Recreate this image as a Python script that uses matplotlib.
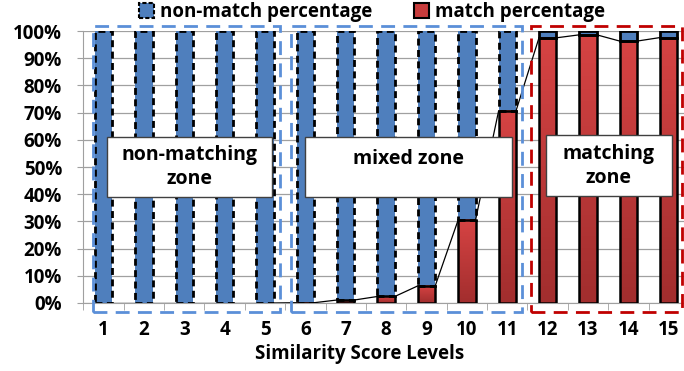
"""Stacked percentage bars of match / non-match per similarity score level."""

import matplotlib.pyplot as plt
import numpy as np
from matplotlib.colors import LinearSegmentedColormap
from matplotlib.patches import Rectangle

plt.rcParams["font.family"] = ["Open Sans", "DejaVu Sans"]
plt.rcParams["font.weight"] = "bold"

levels = [str(i) for i in range(1, 16)]
match_pct = [0, 0, 0, 0, 0, 0.1, 1.1, 2.4, 6.3, 30.6, 70.6, 97.5, 98.6, 96.3, 97.6]
nonmatch_pct = [100, 100, 100, 100, 100, 99.9, 98.9, 97.6, 93.7, 69.4, 29.4, 2.5, 1.4, 3.7, 2.4]
y_ticks = [0, 10, 20, 30, 40, 50, 60, 70, 80, 90, 100]

BLUE = "#4f7fbd"
RED_TOP = "#d64343"
RED_BOT = "#a22e2e"
width = 0.43
FS = 13.5

fig = plt.figure(figsize=(6.84, 3.71), dpi=100)
ax = fig.add_axes([0.1218, 0.1833, 0.8855, 0.7331])

x = np.arange(len(levels))
red_cmap = LinearSegmentedColormap.from_list("redgrad", [RED_BOT, RED_TOP])
grad = np.linspace(0, 1, 64).reshape(-1, 1)

for i, (m, n) in enumerate(zip(match_pct, nonmatch_pct)):
    dashed = i < 11
    # non-match (blue) stacked on top
    ax.add_patch(Rectangle((i - width / 2, m), width, n, facecolor=BLUE,
                           edgecolor="none", zorder=3))
    ax.add_patch(Rectangle((i - width / 2, m), width, n, facecolor="none",
                           edgecolor="black", linewidth=2,
                           linestyle=(0, (2.5, 1.6)) if dashed else "-",
                           zorder=4))
    if m > 0:
        ax.imshow(grad, cmap=red_cmap, origin="lower", aspect="auto",
                  extent=[i - width / 2, i + width / 2, 0, m], zorder=3)
        ax.add_patch(Rectangle((i - width / 2, 0), width, m, facecolor="none",
                               edgecolor="black", linewidth=1.8, zorder=4))

# series lines between match tops
for i in range(len(levels) - 1):
    ax.plot([i + width / 2, i + 1 - width / 2], [match_pct[i], match_pct[i + 1]],
            color="black", linewidth=0.9, zorder=5)

ax.set_xlim(-0.5, len(levels) - 0.5)
ax.set_ylim(0, 100)
ax.set_yticks(y_ticks)
ax.set_yticklabels([f"{v}%" for v in y_ticks], fontsize=FS, fontweight="bold")
ax.set_xticks(x)
ax.set_xticklabels(levels, fontsize=FS, fontweight="bold")
ax.set_xticks(np.arange(-0.5, len(levels), 1), minor=True)
ax.tick_params(axis="x", which="major", length=0, pad=12)
ax.tick_params(axis="x", which="minor", length=5, color="#a0a0a0", direction="out")
ax.tick_params(axis="y", length=4.3, color="#a0a0a0", pad=11)
ax.yaxis.grid(True, color="#a0a0a0", linewidth=0.9, zorder=0)
ax.set_axisbelow(True)
for side in ("top", "right"):
    ax.spines[side].set_visible(False)
ax.spines["left"].set_color("#a0a0a0")
ax.spines["bottom"].set_color("#a0a0a0")

fig.text(360 / 684, 1 - 354 / 371, "Similarity Score Levels", ha="center",
         va="center", fontsize=FS, fontweight="bold")

# dashed zone boxes
zone_boxes = [(-0.26, 4.37, "#5b8fd8"), (4.64, 10.36, "#5b8fd8"), (10.58, 14.32, "#c00000")]
for x0, x1, col in zone_boxes:
    ax.add_patch(Rectangle((x0, -3.3), x1 - x0, 105.1, facecolor="none",
                           edgecolor=col, linewidth=2, linestyle=(0, (5, 3)),
                           clip_on=False, zorder=6))

# zone labels
labels = [((107, 137, 272, 197), "non-matching\nzone", 167),
          ((305, 137, 512, 197), "mixed zone", 159),
          ((546, 135, 672, 196), "matching\nzone", 166)]
for (px0, py0, px1, py1), txt, ty in labels:
    fig.patches.append(Rectangle((px0 / 684, 1 - py1 / 371), (px1 - px0) / 684,
                                 (py1 - py0) / 371, transform=fig.transFigure,
                                 facecolor="white", edgecolor="#404040",
                                 linewidth=1, zorder=7))
    fig.text((px0 + px1) / 2 / 684, 1 - ty / 371, txt, ha="center", va="center",
             fontsize=FS + 0.5, fontweight="bold", linespacing=1.25, zorder=8)

# legend
handles = [Rectangle((0, 0), 1, 1, facecolor=BLUE, edgecolor="black", linewidth=1.5,
                     linestyle=(0, (2, 1))),
           Rectangle((0, 0), 1, 1, facecolor="#c83c3c", edgecolor="black", linewidth=1.5)]
fig.legend(handles, ["non-match percentage", "match percentage"], loc="center",
           bbox_to_anchor=(372 / 684, 1 - 12 / 371), ncol=2, frameon=False,
           fontsize=FS, handlelength=0.8, handleheight=0.8, handletextpad=0.35,
           columnspacing=2.2, borderpad=0)

fig.savefig("out.png", dpi=100)
